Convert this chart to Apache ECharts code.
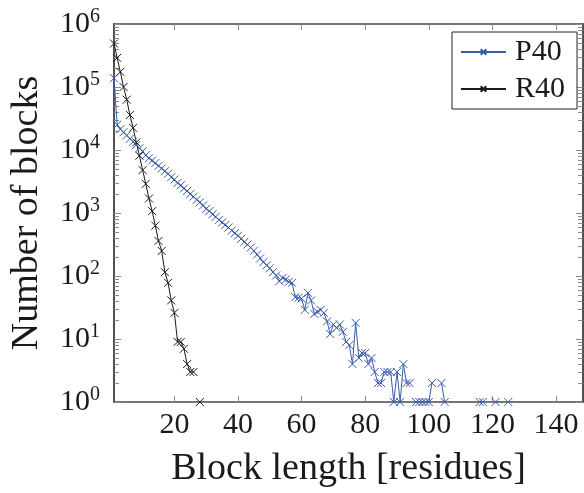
<!DOCTYPE html>
<html>
<head>
<meta charset="utf-8">
<script src="https://cdn.jsdelivr.net/npm/echarts@6/dist/echarts.min.js"></script>
<style>
  html, body { margin: 0; padding: 0; background: #fff; }
  #chart { width: 584px; height: 493px; }
</style>
</head>
<body>
<div id="chart"></div>
<script>
// Number of blocks per block length (index 0 = length 1); null = no blocks of that length
const p40Counts = [
  138000, 25100, 21400, 19100, 17000, 15100, 13500, 12000, 10700, 9500,
  8300, 7400, 6800, 6200, 5600, 5100, 4600, 4200, 3700, 3400,
  3000, 2750, 2450, 2240, 2000, 1820, 1620, 1480, 1320, 1170,
  1070, 955, 870, 776, 708, 646, 589, 525, 479, 437,
  389, 347, 316, 282, 251, 219, 191, 166, 148, 132,
  115, 102, 83, 93, 88, 81, 78, 46, 45, 44,
  29, 54, 41, 25, 27, 29, 26, 19, 12, 17,
  15, 17, 13, 9, 8, 4, 18, 5, 6, 6,
  4, 5, 3, 2, 2, 3, 3, 3, 1, 3,
  1, 4, 2, 2, null, 1, 1, 1, 1, 1,
  2, null, null, 2, 1, null, null, null, null, null,
  null, null, null, null, null, 1, 1, null, null, null,
  1, null, null, null, 1
];
const r40Counts = [
  490000, 290000, 174000, 100000, 63000, 36000, 22500, 13200, 8100, 4800,
  2900, 1700, 1070, 630, 360, 250, 115, 78, 41, 26,
  9, 9, 7, 4, 3, 3, null, 1
];
const seriesNames = ['P40', 'R40'];
const xTickValues = [20, 40, 60, 80, 100, 120, 140];
const yMajorValues = [1, 10, 100, 1000, 10000, 100000, 1000000];
const yMinorValues = [];
for (let e = 0; e < 6; e++) {
  for (let m = 2; m <= 9; m++) yMinorValues.push(m * Math.pow(10, e));
}

const toPairs = counts => counts.map((c, i) => [i + 1, c]);

const FONT = '"Liberation Serif", "DejaVu Serif", serif';
const FRAME = '#4a4a4a';
const TICK = '#8a8a8a';
const CROSS = 'path://M0,0L10,10M10,0L0,10';

function xAxisCfg(pos, withLabels) {
  return {
    type: 'value', position: pos, min: 1, max: 148.5,
    axisLine: { show: true, onZero: false, lineStyle: { color: FRAME, width: 1.6 } },
    axisTick: { show: true, inside: true, length: 6, customValues: xTickValues,
                lineStyle: { color: TICK, width: 1 } },
    axisLabel: withLabels ? {
      customValues: xTickValues, fontFamily: FONT, fontSize: 30, color: '#1a1a1a', margin: 8
    } : { show: false },
    splitLine: { show: false },
    name: withLabels ? 'Block length [residues]' : '',
    nameLocation: 'middle', nameGap: 48,
    nameTextStyle: { fontFamily: FONT, fontSize: 38, color: '#1a1a1a' }
  };
}

function yAxisCfg(pos, ticks, len, withLabels) {
  return {
    type: 'log', logBase: 10, position: pos, min: 1, max: 1000000,
    axisLine: { show: true, lineStyle: { color: FRAME, width: 1.6 } },
    axisTick: { show: true, inside: true, length: len, customValues: ticks,
                lineStyle: { color: TICK, width: 1 } },
    axisLabel: withLabels ? {
      customValues: yMajorValues, margin: 14,
      formatter: v => '{b|10}{s|' + Math.round(Math.log10(v)) + '}',
      rich: {
        b: { fontFamily: FONT, fontSize: 30, color: '#1a1a1a', lineHeight: 34 },
        s: { fontFamily: FONT, fontSize: 20, color: '#1a1a1a', verticalAlign: 'top', lineHeight: 34 }
      }
    } : { show: false },
    splitLine: { show: false },
    minorTick: { show: false },
    name: withLabels ? 'Number of blocks' : '',
    nameLocation: 'middle', nameGap: 68,
    nameTextStyle: { fontFamily: FONT, fontSize: 38, color: '#1a1a1a' }
  };
}

const chart = echarts.init(document.getElementById('chart'), null, { renderer: 'canvas' });

function lineSeries(name, counts, color) {
  return {
    name: name, type: 'line', data: toPairs(counts),
    xAxisIndex: 0, yAxisIndex: 0,
    connectNulls: false, clip: false,
    symbol: CROSS, symbolSize: 8, symbolKeepAspect: true,
    lineStyle: { color: color, width: 1 },
    itemStyle: { color: color, borderColor: color, borderWidth: 1 },
    emphasis: { disabled: true },
    animation: false
  };
}

chart.setOption({
  animation: false,
  backgroundColor: '#fff',
  grid: { left: 109, top: 24, right: 1, bottom: 85.5, containLabel: false },
  legend: {
    right: 7, top: 32, orient: 'vertical',
    data: seriesNames,
    backgroundColor: '#fff', borderColor: '#222', borderWidth: 1,
    padding: [5, 12, 5, 8], itemGap: 7,
    itemWidth: 45, itemHeight: 7,
    textStyle: { fontFamily: FONT, fontSize: 30, color: '#1a1a1a', padding: [0, 0, 0, 4] }
  },
  xAxis: [xAxisCfg('bottom', true), xAxisCfg('top', false)],
  yAxis: [
    yAxisCfg('left', yMajorValues, 7, true),
    yAxisCfg('left', yMinorValues, 5, false),
    yAxisCfg('right', yMajorValues, 7, false),
    yAxisCfg('right', yMinorValues, 5, false)
  ],
  series: [
    lineSeries(seriesNames[0], p40Counts, '#3a5bab'),
    lineSeries(seriesNames[1], r40Counts, '#1a1a1a')
  ]
});
</script>
</body>
</html>
